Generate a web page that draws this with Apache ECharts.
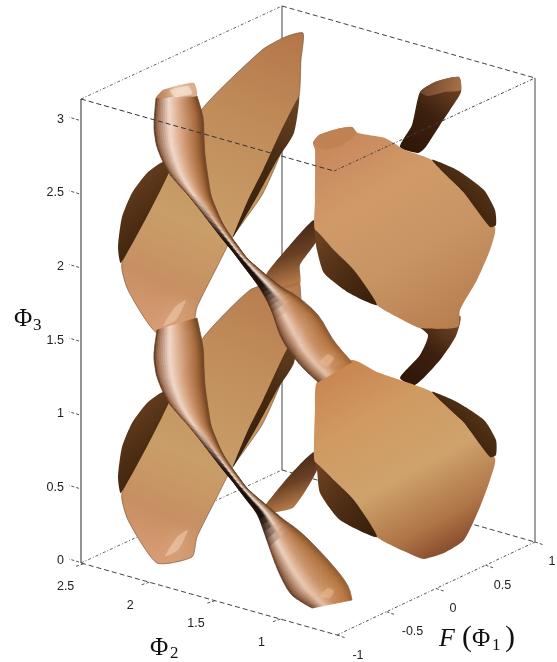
<!DOCTYPE html>
<html>
<head>
<meta charset="utf-8">
<style>
html, body { margin: 0; padding: 0; background: #fff; }
#chart { width: 557px; height: 662px; filter: blur(0.4px); }
</style>
<script src="https://cdn.jsdelivr.net/npm/echarts@6/dist/echarts.min.js"></script>
</head>
<body>
<div id="chart"></div>
<script>
// axis ticks
const phi3Ticks = [0, 0.5, 1, 1.5, 2, 2.5, 3]
const phi2Ticks = [1, 1.5, 2, 2.5]
const fTicks = [-1, -0.5, 0, 0.5, 1]
const phi2Labels = ['1', '1.5', '2', '2.5']
const fLabels = ['-1', '-0.5', '0', '0.5', '1']
const phi3Labels = ['0', '0.5', '1', '1.5', '2', '2.5', '3']

// box limits
const phi2Range = [0.57, 2.52]
const fRange = [-1, 1]
const phi3Range = [0, 3.15]

const upperLeftSheet = [[122,263],[128,290],[157,333],[192,327],[197,307],[217,267],[232,238],[262,195],[280,155],[299,97],[301,60],[303,33],[285,37],[262,50],[203,108],[170,170]]
const upperLeftCrescent = [[163,162],[147,173],[132,193],[122,217],[118,247],[121,263],[170,170]]
const upperLeftBand = [[299,97],[294,133],[277,160],[258,195],[233,237],[248,200],[263,170],[280,133]]
const lowerLeftSheet = [[122,493],[128,520],[157,563],[192,557],[197,537],[217,497],[232,468],[262,425],[280,385],[299,327],[301,300],[297,270],[280,280],[250,290],[203,338],[170,400]]
const lowerLeftCrescent = [[163,392],[147,403],[132,423],[122,447],[118,477],[121,493],[170,400]]
const lowerLeftBand = [[299,327],[294,363],[277,390],[258,425],[233,467],[248,430],[263,400],[280,363]]

const upperRightSheet = [[313,143],[319,135],[337,129],[352,127],[358,133],[385,138],[405,150],[432,160],[464,193],[495,227],[490,250],[477,280],[460,310],[458,327],[420,328],[397,317],[377,305],[354,270],[334,250],[315,230],[315,200],[315,150]]
const upperRightCup = [[313,143],[319,135],[337,129],[352,127],[356,134],[342,145],[325,150]]
const upperRightBack = [[432,160],[457,170],[484,190],[495,210],[496,225],[490,227],[464,193]]
const upperRightUnder = [[377,305],[349,293],[324,273],[317,250],[315,230],[334,250],[354,270]]
const lowerRightSheet = [[317,382],[352,360],[377,372],[400,380],[432,392],[464,423],[495,458],[490,480],[480,507],[464,540],[444,553],[424,559],[417,557],[377,537],[354,500],[334,480],[315,462],[314,443],[315,410]]
const lowerRightBack = [[432,392],[457,402],[484,420],[496,440],[496,455],[490,457],[464,423]]
const lowerRightUnder = [[377,537],[340,520],[320,493],[317,470],[315,462],[334,480],[354,500]]

const backTubeTop = [[420,92],[435,82],[459,77],[461,92],[450,110],[440,125],[425,148],[418,153],[400,147],[412,125]]
const backTubeCup = [[420,92],[435,82],[459,77],[461,90],[445,92],[428,96]]
const backTubeMid = [[414,322],[460,316],[456,336],[440,360],[415,385],[400,378],[420,355],[428,335]]
const backTubeUpperLow = [[314,220],[317,240],[300,265],[300,283],[277,290],[262,290],[267,273],[290,245]]
const backTubeLowerLow = [[314,452],[317,470],[294,507],[277,512],[262,512],[267,503],[290,475]]

const frontCup = [[156,98],[163,90],[180,85],[194,83],[197,96],[178,96],[166,98]]
const upperTubeLeft = [[156,98],[154,123],[155,137],[158,150],[167,170],[178,184],[187,194],[200,210],[213,227],[224,241],[233,252],[245,268],[257,284],[265,297],[272,312],[280,335],[290,352],[303,368],[318,382]]
const upperTubeRight = [[197,96],[203,117],[204,137],[205,155],[208,177],[211,195],[215,206],[222,222],[230,235],[238,246],[247,258],[258,268],[270,278],[283,288],[298,297],[318,315],[332,338],[343,352],[352,362]]
const lowerTubeLeft = [[157,330],[154,353],[155,367],[158,380],[167,400],[178,414],[187,424],[200,440],[213,457],[224,471],[233,482],[245,498],[257,514],[264,532],[272,555],[280,575],[290,593],[300,601],[312,608]]
const lowerTubeRight = [[197,318],[203,347],[204,367],[205,385],[208,407],[211,425],[215,436],[222,452],[230,465],[238,476],[247,488],[258,498],[270,508],[283,519],[298,530],[313,544],[335,568],[348,586],[352,600]]

const upperGlow = [[163,326],[176,306],[186,300],[176,320]]
const lowerGlow = [[165,556],[178,536],[188,530],[178,550]]
const neckGlow = [[320,362],[328,354],[334,358],[328,366]]
const footGlow = [[320,596],[328,588],[334,591],[330,598]]
const topGlow = [[170,90],[188,86],[192,94],[174,96]]

// axis titles as [text, x, y] on the view plane
const phi3Title = [['Φ', 14, 319], ['3', 33, 326]]
const phi2Title = [['Φ', 150, 648], ['2', 170, 654]]
const fTitle = [['F', 439, 639], ['(', 462, 638], ['Φ', 472, 639], ['1', 492, 646], [')', 505, 638]]

// view plane position of a data point
const origin = [337, 635]
function project(phi2, f, phi3) {
  const a = (phi2 - phi2Range[0]) / (phi2Range[1] - phi2Range[0])
  const b = (f - fRange[0]) / (fRange[1] - fRange[0])
  const c = (phi3 - phi3Range[0]) / (phi3Range[1] - phi3Range[0])
  return [
    origin[0] - 256 * a + 198 * b + 3 * a * b - 3 * c * (1 - a) * (1 - b),
    origin[1] - 72 * a - 93 * b - 464 * c
  ]
}

const L = echarts.graphic.LinearGradient
function grad(x0, y0, x1, y1, colors) {
  return new L(x0, y0, x1, y1, colors.map(c => ({ offset: c[0], color: c[1] })))
}

function hex(c) {
  return [1, 3, 5].map(i => parseInt(c.substr(i, 2), 16))
}
function mixRgb(a, b, t) {
  return a.map((v, i) => v + (b[i] - v) * t)
}

// colours across a tube, lower left edge to upper right edge
const wideStops = [[0, '#4a2c1a'], [0.07, '#9a6a4c'], [0.32, '#f2d8ca'], [0.55, '#d8a582'], [0.85, '#a86a3c'], [1, '#6c4222']]
const waistStops = [[0, '#2a1a10'], [0.1, '#1c0e08'], [0.35, '#1c0e08'], [0.55, '#f4e6da'], [0.85, '#a87a58'], [1, '#5c3a22']]
const footStops = [[0, '#5a3826'], [0.07, '#8a5a3c'], [0.3, '#e6c0a6'], [0.55, '#c4895c'], [0.85, '#b87840'], [1, '#9a6034']]

function sample(stops, u) {
  for (let k = 1; k < stops.length; k++) {
    if (u <= stops[k][0]) {
      const t = (u - stops[k - 1][0]) / (stops[k][0] - stops[k - 1][0])
      return mixRgb(hex(stops[k - 1][1]), hex(stops[k][1]), t)
    }
  }
  return hex(stops[stops.length - 1][1])
}

// curve through the stations, so the tube edge is drawn round and not faceted
function smoothEdge(pts, steps) {
  const out = []
  for (let i = 0; i < pts.length - 1; i++) {
    const p0 = pts[Math.max(0, i - 1)]
    const p1 = pts[i]
    const p2 = pts[i + 1]
    const p3 = pts[Math.min(pts.length - 1, i + 2)]
    for (let s = 0; s < steps; s++) {
      const t = s / steps
      out.push([0, 1].map(d => 0.5 * (2 * p1[d] + (p2[d] - p0[d]) * t +
        (2 * p0[d] - 5 * p1[d] + 4 * p2[d] - p3[d]) * t * t +
        (3 * p1[d] - p0[d] - 3 * p2[d] + p3[d]) * t * t * t)))
    }
  }
  out.push(pts[pts.length - 1])
  return out
}

const acrossSlices = 26
function tube(left, right, api) {
  const children = []
  const l = smoothEdge(left.map(p => api.coord(p)), 3)
  const r = smoothEdge(right.map(p => api.coord(p)), 3)
  const at = (i, u) => [l[i][0] + (r[i][0] - l[i][0]) * u, l[i][1] + (r[i][1] - l[i][1]) * u]
  for (let i = 0; i < l.length - 1; i++) {
    const w = Math.hypot(l[i][0] - r[i][0], l[i][1] - r[i][1])
    const t = Math.min(1, Math.max(0, (w - 14) / 18))
    const along = i / (l.length - 1)
    const foot = Math.min(1, Math.max(0, (along - 0.7) / 0.25))
    for (let j = 0; j < acrossSlices; j++) {
      const u = (j + 0.5) / acrossSlices
      let c = mixRgb(sample(waistStops, u), sample(wideStops, u), t)
      c = mixRgb(c, sample(footStops, u), foot)
      const col = 'rgb(' + c.map(Math.round).join(',') + ')'
      children.push({
        type: 'polygon',
        shape: { points: [at(i, j / acrossSlices), at(i, (j + 1) / acrossSlices), at(i + 1, (j + 1) / acrossSlices), at(i + 1, j / acrossSlices)] },
        style: { fill: col, stroke: col, lineWidth: 0.7 }
      })
    }
  }
  return children
}

function poly(points, fill, api, extra) {
  return {
    type: 'polygon',
    shape: { points: points.map(p => api.coord(p)), smooth: 0.2 },
    style: Object.assign({ fill: fill }, extra || {})
  }
}

const tanUpper = grad(0.9, 0, 0.2, 1, [[0, '#b5774a'], [0.3, '#c08c5a'], [0.65, '#c99e68'], [0.85, '#c78f62'], [1, '#d99c74']])
const tanLower = grad(0.9, 0, 0.2, 1, [[0, '#b5784c'], [0.3, '#c08c5a'], [0.65, '#c99e68'], [0.85, '#c78f62'], [1, '#d99c74']])
const darkCrescent = grad(0, 0.2, 1, 0.8, [[0, '#6a4020'], [0.5, '#4e2e14'], [1, '#3a200c']])
const darkBand = grad(1, 0, 0, 1, [[0, '#6a4526'], [0.5, '#452810'], [1, '#38200c']])
const rightUpperFill = grad(0.1, 0, 0.75, 1, [[0, '#c6855a'], [0.35, '#d09a68'], [0.65, '#c89464'], [1, '#b87e50']])
const rightLowerFill = grad(0.1, 0, 0.7, 1, [[0, '#c8824e'], [0.3, '#d09a62'], [0.6, '#cfa26c'], [0.85, '#ae7446'], [1, '#84492a']])
const backDark = grad(1, 0, 0, 1, [[0, '#7a4c28'], [0.5, '#3c200e'], [1, '#2c1608']])
const lowTubeFill = grad(0.35, 0, 0.75, 1, [[0, '#3a2010'], [0.5, '#6a4024'], [0.85, '#b27848'], [1, '#8a5630']])

function glow(points, color, blur, api) {
  return poly(points, color, api, { shadowBlur: blur, shadowColor: color, opacity: 0.45 })
}

const surfaceLayers = [
  api => [poly(upperLeftSheet, tanUpper, api, { stroke: '#6a4a2a', lineWidth: 0.6 }), poly(upperLeftCrescent, darkCrescent, api), poly(upperLeftBand, darkBand, api)],
  api => [poly(lowerLeftSheet, tanLower, api, { stroke: '#6a4a2a', lineWidth: 0.6 }), poly(lowerLeftCrescent, darkCrescent, api), poly(lowerLeftBand, darkBand, api)],
  api => [glow(upperGlow, '#f6d6bc', 18, api), glow(lowerGlow, '#f8dcc4', 18, api)],
  api => [poly(backTubeTop, backDark, api), poly(backTubeCup, grad(0, 0, 1, 0.4, [[0, '#6a4228'], [1, '#a87048']]), api), poly(backTubeMid, backDark, api)],
  api => [poly(backTubeUpperLow, lowTubeFill, api), poly(backTubeLowerLow, lowTubeFill, api)],
  api => [poly(upperRightSheet, rightUpperFill, api), poly(upperRightBack, darkBand, api), poly(upperRightUnder, darkCrescent, api), poly(upperRightCup, '#c08252', api)],
  api => [poly(lowerRightSheet, rightLowerFill, api), poly(lowerRightBack, darkBand, api), poly(lowerRightUnder, darkCrescent, api)],
  api => tube(lowerTubeLeft, lowerTubeRight, api).concat([glow(footGlow, '#f0c09a', 10, api)]),
  api => tube(upperTubeLeft, upperTubeRight, api).concat([
    glow(neckGlow, '#f0c49e', 10, api),
    poly(frontCup, grad(0, 0, 1, 0, [[0, '#b87c50'], [0.5, '#e0b090'], [1, '#d8a888']]), api),
    glow(topGlow, '#fff4ea', 6, api)
  ])
]

function seg(a, b, api, stroke, width, dash) {
  const p = api.coord(a)
  const q = api.coord(b)
  return {
    type: 'line',
    shape: { x1: p[0], y1: p[1], x2: q[0], y2: q[1] },
    style: { stroke: stroke, lineWidth: width, lineDash: dash || null }
  }
}

const [p2lo, p2hi] = phi2Range
const [flo, fhi] = fRange
const [zlo, zhi] = phi3Range

function backLines(api) {
  const ink = '#444'
  return [
    seg(project(p2hi, flo, zlo), project(p2hi, flo, zhi), api, '#777', 1.6),
    seg(project(p2hi, fhi, zlo), project(p2hi, fhi, zhi), api, '#444', 1),
    seg(project(p2lo, fhi, zlo), project(p2lo, fhi, zhi), api, '#444', 1),
    seg(project(p2hi, flo, zhi), project(p2hi, fhi, zhi), api, '#666', 1, [3, 2, 1, 2]),
    seg(project(p2hi, fhi, zhi), project(p2lo, fhi, zhi), api, ink, 1, [5, 3]),
    seg(project(p2hi, flo, zlo), project(p2hi, fhi, zlo), api, '#666', 1, [3, 2, 1, 2]),
    seg(project(p2hi, fhi, zlo), project(p2lo, fhi, zlo), api, ink, 1, [5, 3]),
    seg(project(p2hi, flo, zlo), project(p2lo, flo, zlo), api, ink, 1, [5, 3]),
    seg(project(p2lo, flo, zlo), project(p2lo, fhi, zlo), api, '#555', 1, [3, 2, 1, 2])
  ]
}

function frontLines(api) {
  return [
    seg(project(p2hi, flo, zhi), project(p2lo, flo, zhi), api, '#333', 1, [5, 3]),
    seg(project(p2lo, flo, zhi), project(p2lo, fhi, zhi), api, '#444', 1, [3, 2, 1, 2])
  ]
}

function label(text, p, api, style) {
  const c = api.coord(p)
  return {
    type: 'text',
    style: Object.assign({ text: text, x: c[0], y: c[1], fill: '#222', align: 'center', verticalAlign: 'middle', font: '12.5px "Liberation Sans"' }, style || {})
  }
}

function tickMarks(api) {
  const items = []
  phi3Ticks.forEach((v, i) => {
    const p = project(p2hi, flo, v)
    items.push(seg([p[0] - 2, p[1] - 1], [p[0] - 12, p[1] - 4], api, '#555', 1, [3, 2]))
    items.push(label(phi3Labels[i], [p[0] - 17, p[1] - 2], api, { align: 'right' }))
  })
  phi2Ticks.forEach((v, i) => {
    const p = project(v, flo, zlo)
    items.push(seg(p, [p[0] - 9, p[1] + 3], api, '#555', 1, [3, 2]))
    items.push(label(phi2Labels[i], [p[0] - (i === 3 ? 18 : 19), p[1] + 23], api))
  })
  fTicks.forEach((v, i) => {
    const p = project(p2lo, v, zlo)
    items.push(seg(p, [p[0] + 9, p[1] + 3], api, '#555', 1, [3, 2]))
    items.push(label(fLabels[i], [p[0] + (i === 1 ? 26 : i === 0 ? 21 : 17), p[1] + (i === 0 ? 21 : 20)], api))
  })
  return items
}

function titles(api) {
  const items = []
  const big = '25px "Liberation Serif"'
  const small = '17px "Liberation Serif"'
  phi3Title.concat(phi2Title).forEach(t => {
    items.push(label(t[0], [t[1], t[2]], api, { align: 'left', font: t[0] === 'Φ' ? big : small, fill: '#111' }))
  })
  fTitle.forEach(t => {
    let font = big
    if (t[0] === 'F') font = 'italic 26px "Liberation Serif"'
    if (t[0] === '1') font = small
    if (t[0] === '(' || t[0] === ')') font = '30px "Liberation Serif"'
    items.push(label(t[0], [t[1], t[2]], api, { align: 'left', font: font, fill: '#111' }))
  })
  return items
}

const drawOrder = [backLines].concat(surfaceLayers).concat([frontLines, tickMarks, titles])

const chart = echarts.init(document.getElementById('chart'))
chart.setOption({
  animation: false,
  backgroundColor: '#fff',
  grid: { left: 0, right: 0, top: 0, bottom: 0 },
  xAxis: { type: 'value', min: 0, max: 557, show: false },
  yAxis: { type: 'value', min: 0, max: 662, inverse: true, show: false },
  series: [{
    type: 'custom',
    coordinateSystem: 'cartesian2d',
    clip: false,
    silent: true,
    data: drawOrder.map((d, i) => [i, i]),
    renderItem(params, api) {
      return { type: 'group', children: drawOrder[params.dataIndex](api) }
    }
  }]
})
</script>
</body>
</html>
